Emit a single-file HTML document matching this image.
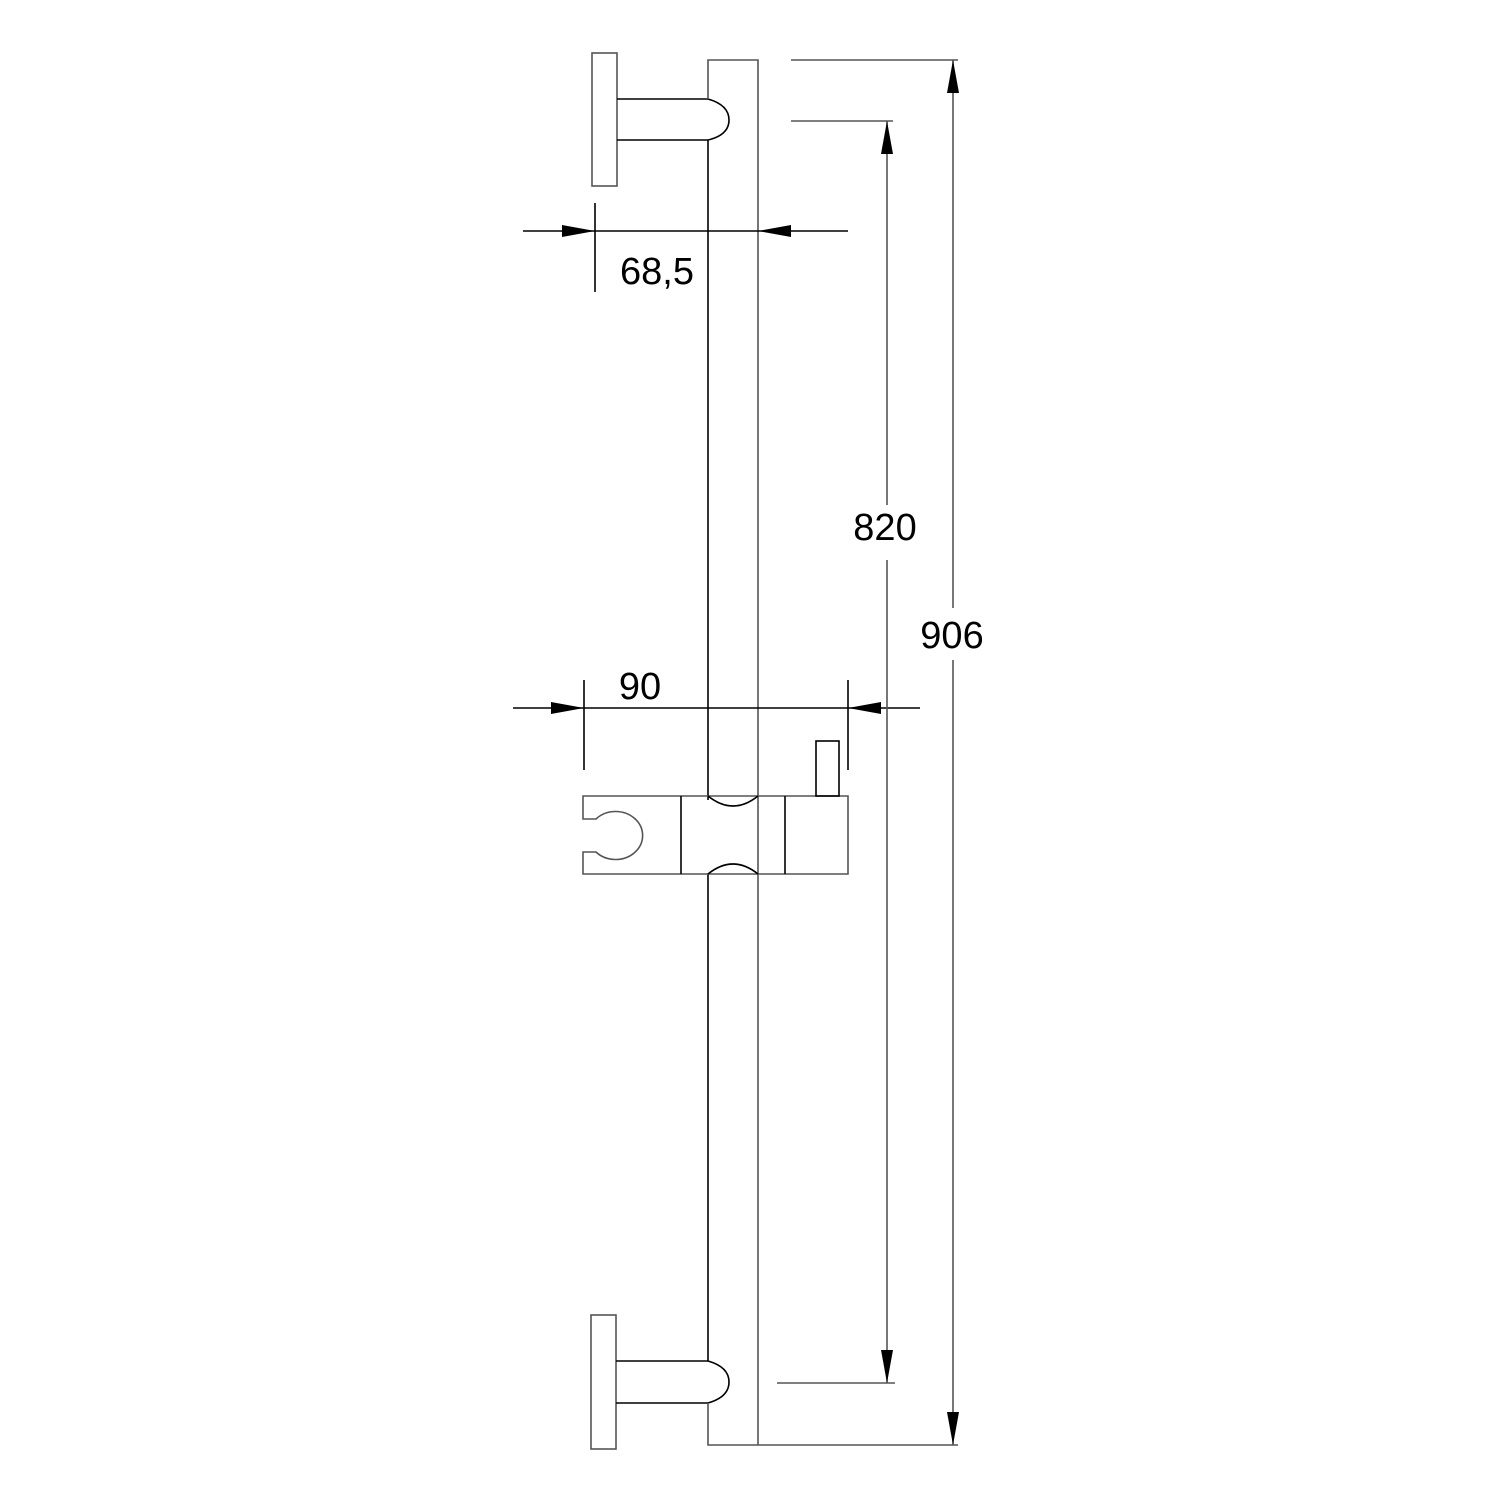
<!DOCTYPE html>
<html><head><style>body{margin:0;background:#fff}</style></head><body>
<svg width="1500" height="1500" viewBox="0 0 1500 1500" xmlns="http://www.w3.org/2000/svg" style="display:block">
<rect width="1500" height="1500" fill="#fff"/>
<g fill="none" stroke="#000" stroke-width="1.6">
<rect x="592" y="53" width="25" height="133" stroke="#555"/>
<path d="M617 99 H708 Q729 105 729 120 Q729 135 708 140 H617"/>
<path d="M708 99 V60 H758 V1445" stroke="#555"/>
<path d="M708 140 V800"/>
<rect x="591" y="1315" width="25" height="134" stroke="#555"/>
<path d="M616 1361 H708 Q729 1367 729 1382 Q729 1397 708 1403 H616"/>
<path d="M708 874 V1361"/>
<path d="M708 1403 V1445 H958" stroke="#555"/>
<path d="M583 796 H848 V874 H583 V852 H596 A27 24 0 1 0 596 819 H583 Z" stroke="#555"/>
<path d="M708 796 Q733 816 758 796"/>
<path d="M708 874 Q733 854 758 874"/>
<line x1="681" y1="796" x2="681" y2="874"/>
<line x1="785" y1="796" x2="785" y2="874"/>
<rect x="816" y="741" width="23" height="55"/>
<line x1="791" y1="60" x2="958" y2="60" stroke="#555"/>
<line x1="791" y1="121" x2="893" y2="121" stroke="#555"/>
<line x1="777" y1="1383" x2="895" y2="1383" stroke="#555"/>
<line x1="523" y1="231" x2="848" y2="231"/>
<line x1="595" y1="203" x2="595" y2="292"/>
<line x1="513" y1="708" x2="920" y2="708"/>
<line x1="584" y1="680" x2="584" y2="770"/>
<line x1="848" y1="680" x2="848" y2="770"/>
<line x1="887" y1="121" x2="887" y2="505" stroke="#555"/>
<line x1="887" y1="560" x2="887" y2="1383" stroke="#555"/>
<line x1="953" y1="60" x2="953" y2="608" stroke="#555"/>
<line x1="953" y1="660" x2="953" y2="1445" stroke="#555"/>
</g>
<g fill="#000">
<polygon points="595,231 562,225 562,237"/>
<polygon points="758,231 791,225 791,237"/>
<polygon points="584,708 551,702 551,714"/>
<polygon points="848,708 881,702 881,714"/>
<polygon points="887,121 881,154 893,154"/>
<polygon points="887,1383 881,1350 893,1350"/>
<polygon points="953,60 947,93 959,93"/>
<polygon points="953,1445 947,1412 959,1412"/>
</g>
<g font-family="Liberation Sans, sans-serif" font-size="38" text-anchor="middle" fill="#000">
<text x="657" y="284">68,5</text>
<text x="640" y="699">90</text>
<text x="885" y="540">820</text>
<text x="952" y="648">906</text>
</g>
</svg>
</body></html>
